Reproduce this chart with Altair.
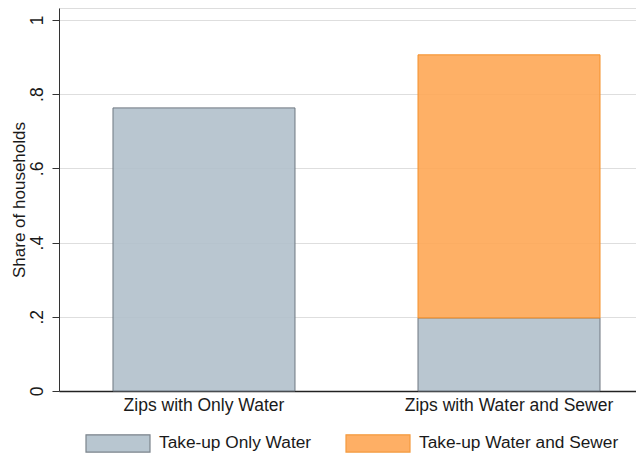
import altair as alt
import pandas as pd

categories = ["Zips with Only Water", "Zips with Water and Sewer"]
series = ["Take-up Only Water", "Take-up Water and Sewer"]
only_water = [0.763, 0.197]
water_sewer = [0.0, 0.709]
y_ticks = [0, 0.2, 0.4, 0.6, 0.8, 1]

rows = []
for i, c in enumerate(categories):
    rows.append({"cat": c, "series": series[0], "value": only_water[i], "order": 0})
    rows.append({"cat": c, "series": series[1], "value": water_sewer[i], "order": 1})
df = pd.DataFrame(rows)

FONT = "Liberation Sans"
TXT = "#1a1a1a"
fills = ["#b1c0cb", "#fea755"]
strokes = ["#6e7780", "#f4902a"]

chart = alt.Chart(df).transform_filter("datum.value > 0").mark_bar(fillOpacity=0.9, strokeWidth=1).encode(
    x=alt.X("cat:N", sort=categories, title=None,
            scale=alt.Scale(range=[0, 595], paddingInner=0.4033, paddingOuter=0.177),
            axis=alt.Axis(labelAngle=0, labelFontSize=17.5, labelFont=FONT, labelColor=TXT,
                          ticks=False, labelPadding=5, domainColor="#222222", domainWidth=1.5,
                          grid=False, labelLimit=400)),
    y=alt.Y("value:Q", stack="zero", title="Share of households",
            scale=alt.Scale(domain=[0, 1.0323], nice=False),
            axis=alt.Axis(values=y_ticks, labelAngle=-90, labelAlign="center", labelBaseline="bottom",
                          labelExpr="datum.value == 0 ? '0' : datum.value == 1 ? '1' : replace(format(datum.value, '.1f'), '0.', '.')",
                          labelFontSize=17.5, labelFont=FONT, labelColor=TXT, labelPadding=6,
                          tickSize=7, tickColor="#333333", domainColor="#333333",
                          titleFontSize=17, titleFont=FONT, titleColor=TXT, titleFontWeight="normal",
                          titlePadding=0, gridColor="#dedede", gridWidth=1)),
    fill=alt.Fill("series:N", sort=series, title=None,
                  scale=alt.Scale(domain=series, range=fills),
                  legend=alt.Legend(orient="none", legendX=26, legendY=402, direction="horizontal",
                                    columns=2, symbolType="M-1,-0.27L1,-0.27L1,0.27L-1,0.27Z",
                                    symbolSize=4096, symbolStrokeWidth=1.2, symbolOpacity=0.9,
                                    labelFontSize=17.3, labelFont=FONT, labelColor=TXT,
                                    labelOffset=8, columnPadding=31, labelLimit=400)),
    stroke=alt.Stroke("series:N", sort=series, scale=alt.Scale(domain=series, range=strokes), legend=None),
    order=alt.Order("order:Q"),
).properties(
    width=577, height=383,
    autosize=alt.AutoSizeParams(type="none"),
    padding={"left": 51, "top": 0, "right": 0, "bottom": 66},
).configure_view(stroke=None).configure(background="white")

chart.save("out.html", embed_options={"renderer": "svg", "actions": False})
